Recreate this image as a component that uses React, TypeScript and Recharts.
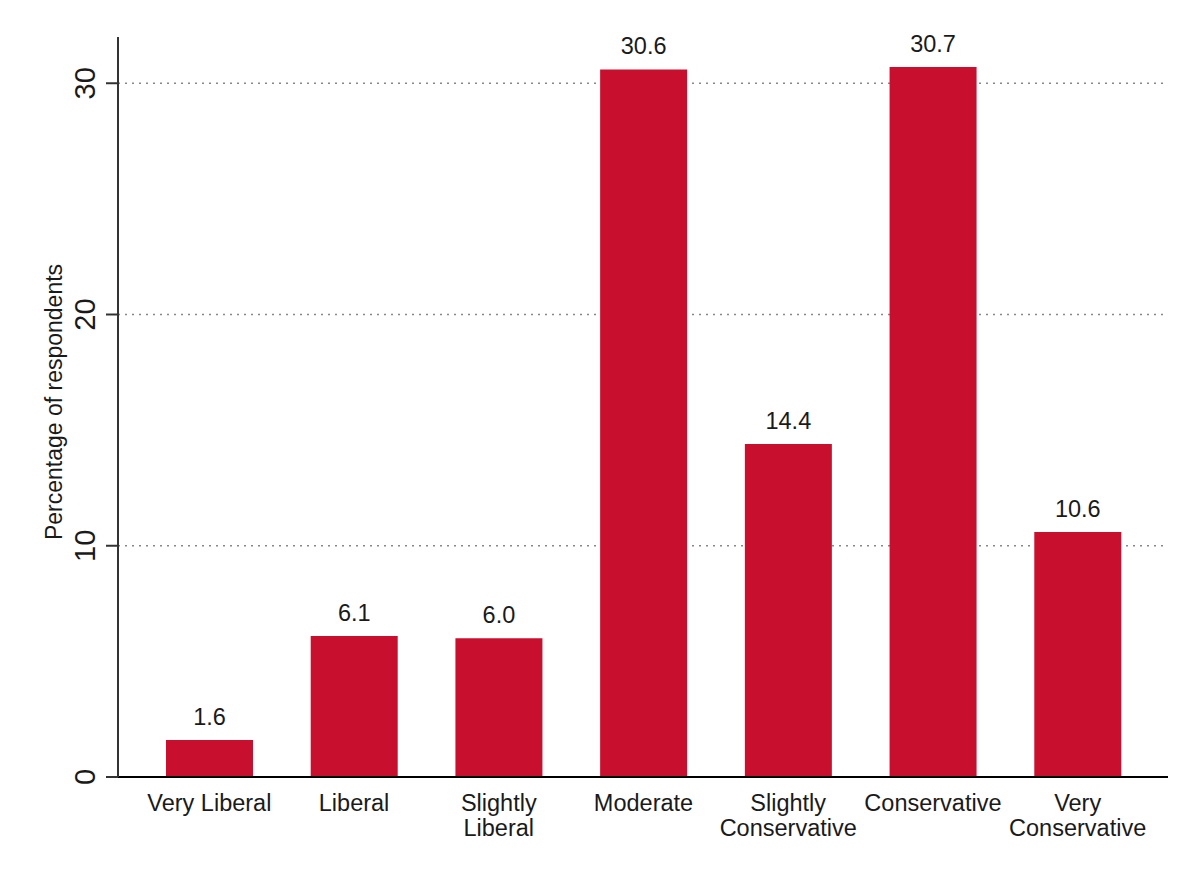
import { Bar, BarChart, CartesianGrid, Label, LabelList, XAxis, YAxis } from "recharts";

// ideology categories, "\n" marks where the tick label wraps
const categories = [
  "Very Liberal",
  "Liberal",
  "Slightly\nLiberal",
  "Moderate",
  "Slightly\nConservative",
  "Conservative",
  "Very\nConservative",
];
const percentages = [1.6, 6.1, 6.0, 30.6, 14.4, 30.7, 10.6];
const yTicks = [0, 10, 20, 30];
const gridValues = [10, 20, 30];

const data = categories.map((name, i) => ({ name, pct: percentages[i] }));

const FONT = "'Liberation Sans', Arial, sans-serif";
const TEXT = "#1a1a1a";
const RED = "#C8102E";

function XTick({ x, y, payload }: any) {
  const lines = String(payload.value).split("\n");
  return (
    <text x={x} y={y + 34} textAnchor="middle" fontSize={23.5} fill={TEXT} fontFamily={FONT}>
      {lines.map((line, i) => (
        <tspan key={i} x={x} dy={i === 0 ? 0 : 25}>
          {line}
        </tspan>
      ))}
    </text>
  );
}

function YTick({ x, y, payload }: any) {
  return (
    <text
      x={x}
      y={y}
      transform={`rotate(-90 ${x} ${y})`}
      textAnchor="middle"
      fontSize={29}
      fill={TEXT}
      fontFamily={FONT}
    >
      {payload.value}
    </text>
  );
}

export default function App() {
  return (
    <div style={{ position: "absolute", left: 0, top: 0, background: "#fff" }}>
      <BarChart
        width={1190}
        height={871}
        data={data}
        margin={{ top: 37, right: 22, bottom: 34, left: 58 }}
      >
        <CartesianGrid
          horizontal
          vertical={false}
          horizontalValues={gridValues}
          stroke="#888"
          strokeDasharray="2 5"
          strokeWidth={1.5}
        />
        <XAxis
          dataKey="name"
          height={60}
          padding={{ left: 19, right: 18 }}
          axisLine={{ stroke: "#000", strokeWidth: 2 }}
          tickLine={false}
          tickSize={0}
          tickMargin={0}
          interval={0}
          tick={<XTick />}
        />
        <YAxis
          width={60}
          domain={[0, 32]}
          ticks={yTicks}
          allowDataOverflow
          axisLine={{ stroke: "#333", strokeWidth: 2 }}
          tickLine={{ stroke: "#333", strokeWidth: 2 }}
          tickSize={12}
          tickMargin={11}
          tick={<YTick />}
        >
          <Label
            content={() => (
              <text
                x={62}
                y={402}
                transform="rotate(-90 62 402)"
                textAnchor="middle"
                fontSize={23}
                fill={TEXT}
                fontFamily={FONT}
              >
                Percentage of respondents
              </text>
            )}
          />
        </YAxis>
        <Bar dataKey="pct" fill={RED} barSize={87} isAnimationActive={false}>
          <LabelList
            dataKey="pct"
            position="top"
            offset={15}
            formatter={(v: any) => Number(v).toFixed(1)}
            fontSize={23.5}
            fill={TEXT}
            fontFamily={FONT}
          />
        </Bar>
      </BarChart>
    </div>
  );
}
